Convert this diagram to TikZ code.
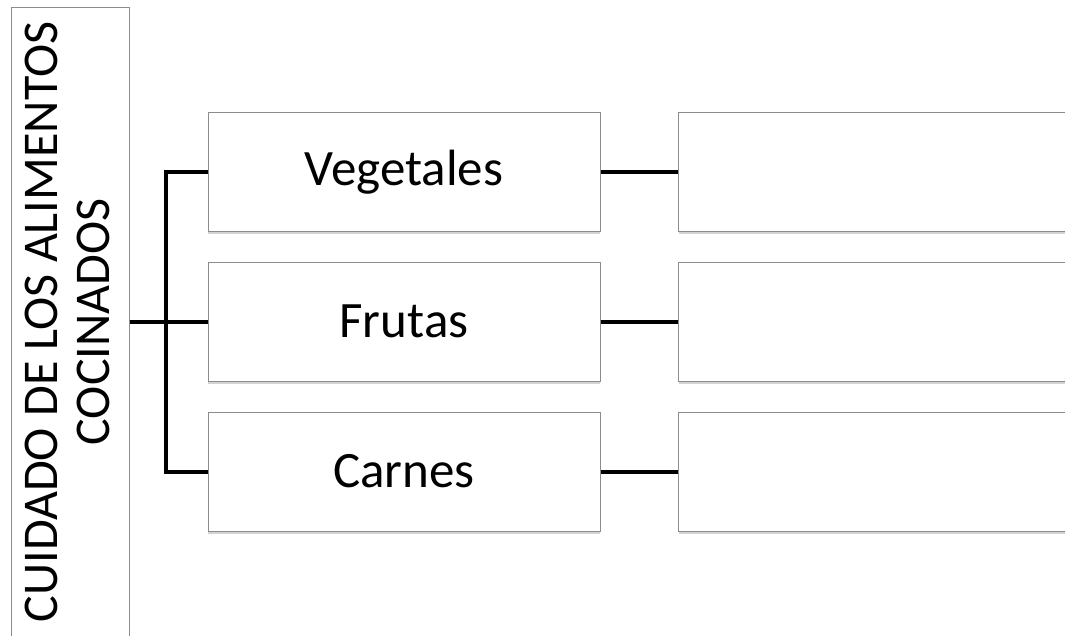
\documentclass[tikz,border=0pt]{standalone}
\usepackage{fontspec}
\setmainfont{Carlito}
\usetikzlibrary{shadows}
\begin{document}
\begin{tikzpicture}[x=1pt,y=-1pt,
  box/.style={draw=black!45, line width=1pt, fill=white, inner sep=0pt,
    drop shadow={shadow xshift=0pt, shadow yshift=-2.5pt, opacity=0.35}},
  item/.style={box, minimum width=392pt, minimum height=119pt, font=\fontsize{51}{58}\selectfont},
  detail/.style={box, minimum width=420pt, minimum height=119pt, anchor=west},
  conn/.style={draw=black, line width=4pt}]
\useasboundingbox (0,0) rectangle (1065,635);
\begin{scope}
\clip (0,0) rectangle (1065,635);
\node[box, minimum width=118pt, minimum height=660pt, anchor=north west] (main) at (11,7) {};
\node[rotate=90, align=center, inner sep=0pt, font=\fontsize{50}{52}\selectfont] (title) at (67,322)
  {CUIDADO DE LOS ALIMENTOS\\COCINADOS};
\node[item] (veg) at (404,172) {Vegetales};
\node[item] (fru) at (404,321.5) {Frutas};
\node[item] (car) at (404,471.5) {Carnes};
\node[detail] (d1) at (678,172) {};
\node[detail] (d2) at (678,321.5) {};
\node[detail] (d3) at (678,471.5) {};
\coordinate (j) at (166,321.5);
\draw[conn] (main.east |- fru.west) -- (fru.west);
\draw[conn] (veg.west) -| (j) |- (car.west);
\draw[conn] (veg.east) -- (d1.west);
\draw[conn] (fru.east) -- (d2.west);
\draw[conn] (car.east) -- (d3.west);
\end{scope}
\end{tikzpicture}
\end{document}
